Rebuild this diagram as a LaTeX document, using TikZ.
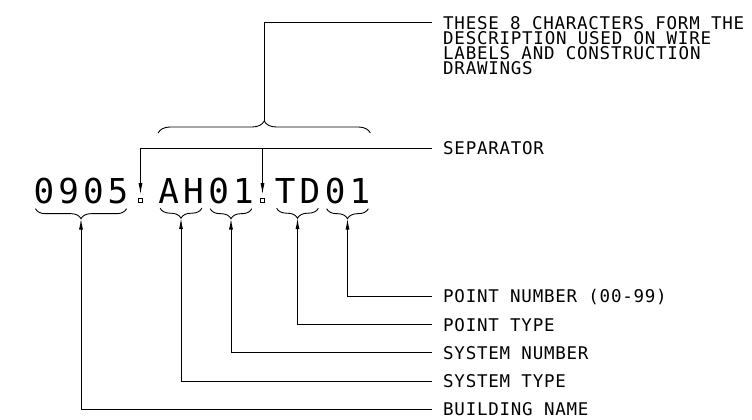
\documentclass[tikz,border=0pt]{standalone}
\usepackage{fontspec}
\newfontfamily\cadfont{DejaVu Sans Mono}[LetterSpace=4.3]
\newfontfamily\bigcadfont{DejaVu Sans Mono}[LetterSpace=11.8]
\usepackage{tikz}
\usetikzlibrary{
	arrows.meta,
	positioning,
	calc,
	decorations.pathreplacing
}

\begin{document}
\begin{tikzpicture}[
	x=1pt, y=-1pt,
	chars/.style={
		inner sep=0pt, anchor=base,
		font=\bigcadfont\fontsize{34.3}{36}\selectfont
	},
	lbl/.style={
		anchor=west, inner xsep=11pt, inner ysep=0pt,
		text height=12.8pt, text depth=0pt,
		font=\cadfont\fontsize{17.5}{15}\selectfont
	},
	desc/.style={
		anchor=north west, inner xsep=11pt, inner ysep=0pt,
		align=left, font=\cadfont\fontsize{17.5}{15}\selectfont
	},
	sepbox/.style={
		draw, rectangle, minimum size=4.5pt, inner sep=0pt, line width=0.7pt
	},
	line/.style={line width=0.9pt},
	arrow/.style={line, -{Latex[length=11pt, width=4pt]}},
	brace/.style={line, decorate, decoration={brace, amplitude=10pt, raise=5pt}},
	topbrace/.style={line, decorate, decoration={brace, amplitude=12pt}},
	]
	\useasboundingbox (0,0) rectangle (752,420);
	
	%the characters
	\node[chars] (n0905) at (81,203) {0905};
	\node (nAH) at (n0905.base) [chars, xshift=100pt] {AH};
	\node (nS01) at (nAH.base) [chars, xshift=50pt] {01};
	\node (nTD) at (nS01.base) [chars, xshift=66.5pt] {TD};
	\node (nP01) at (nTD.base) [chars, xshift=50pt] {01};
	
	%separators
	\node[sepbox] (sep1) at (140.5,200.3) {};
	\node[sepbox] (sep2) at (262.5,200.3) {};
	
	%braces under each part
	\foreach \g in {n0905,nAH,nS01,nTD,nP01}
		\draw[brace] ([xshift=-2pt]\g.south east) -- ([xshift=2pt]\g.south west)
			coordinate[midway, yshift=-15pt] (\g-tip);
	
	%top brace
	\draw[topbrace] ([yshift=70pt]nAH.base west) -- ([yshift=70pt]nP01.base east)
		coordinate[midway, yshift=12pt] (toptip);
	
	%labels
	\node[desc] (lbldesc) at (432,16) {THESE 8 CHARACTERS FORM THE\\DESCRIPTION USED ON WIRE\\LABELS AND CONSTRUCTION\\DRAWINGS};
	\node[lbl] (lblsep) at (432,148.3) {SEPARATOR};
	\node[lbl] (lblptnum) at (432,296.5) {POINT NUMBER (00-99)};
	\node (lblpttype) at (lblptnum.west) [lbl, yshift=-28.2pt] {POINT TYPE};
	\node (lblsysnum) at (lblpttype.west) [lbl, yshift=-28.2pt] {SYSTEM NUMBER};
	\node (lblsystype) at (lblsysnum.west) [lbl, yshift=-28.2pt] {SYSTEM TYPE};
	\node (lblbldg) at (lblsystype.west) [lbl, yshift=-28.2pt] {BUILDING NAME};
	
	%top connector
	\draw[line] (toptip) |- ([yshift=-6.5pt]lbldesc.north west);
	
	%separator arrows
	\draw[arrow, shorten >=3.5pt] (lblsep.west) -| (sep1.north);
	\draw[arrow, shorten >=3.5pt] (sep2 |- lblsep.west) -- (sep2.north);
	
	%part arrows
	\draw[arrow] (lblptnum.west) -| (nP01-tip);
	\draw[arrow] (lblpttype.west) -| (nTD-tip);
	\draw[arrow] (lblsysnum.west) -| (nS01-tip);
	\draw[arrow] (lblsystype.west) -| (nAH-tip);
	\draw[arrow] (lblbldg.west) -| (n0905-tip);
\end{tikzpicture}
\end{document}
